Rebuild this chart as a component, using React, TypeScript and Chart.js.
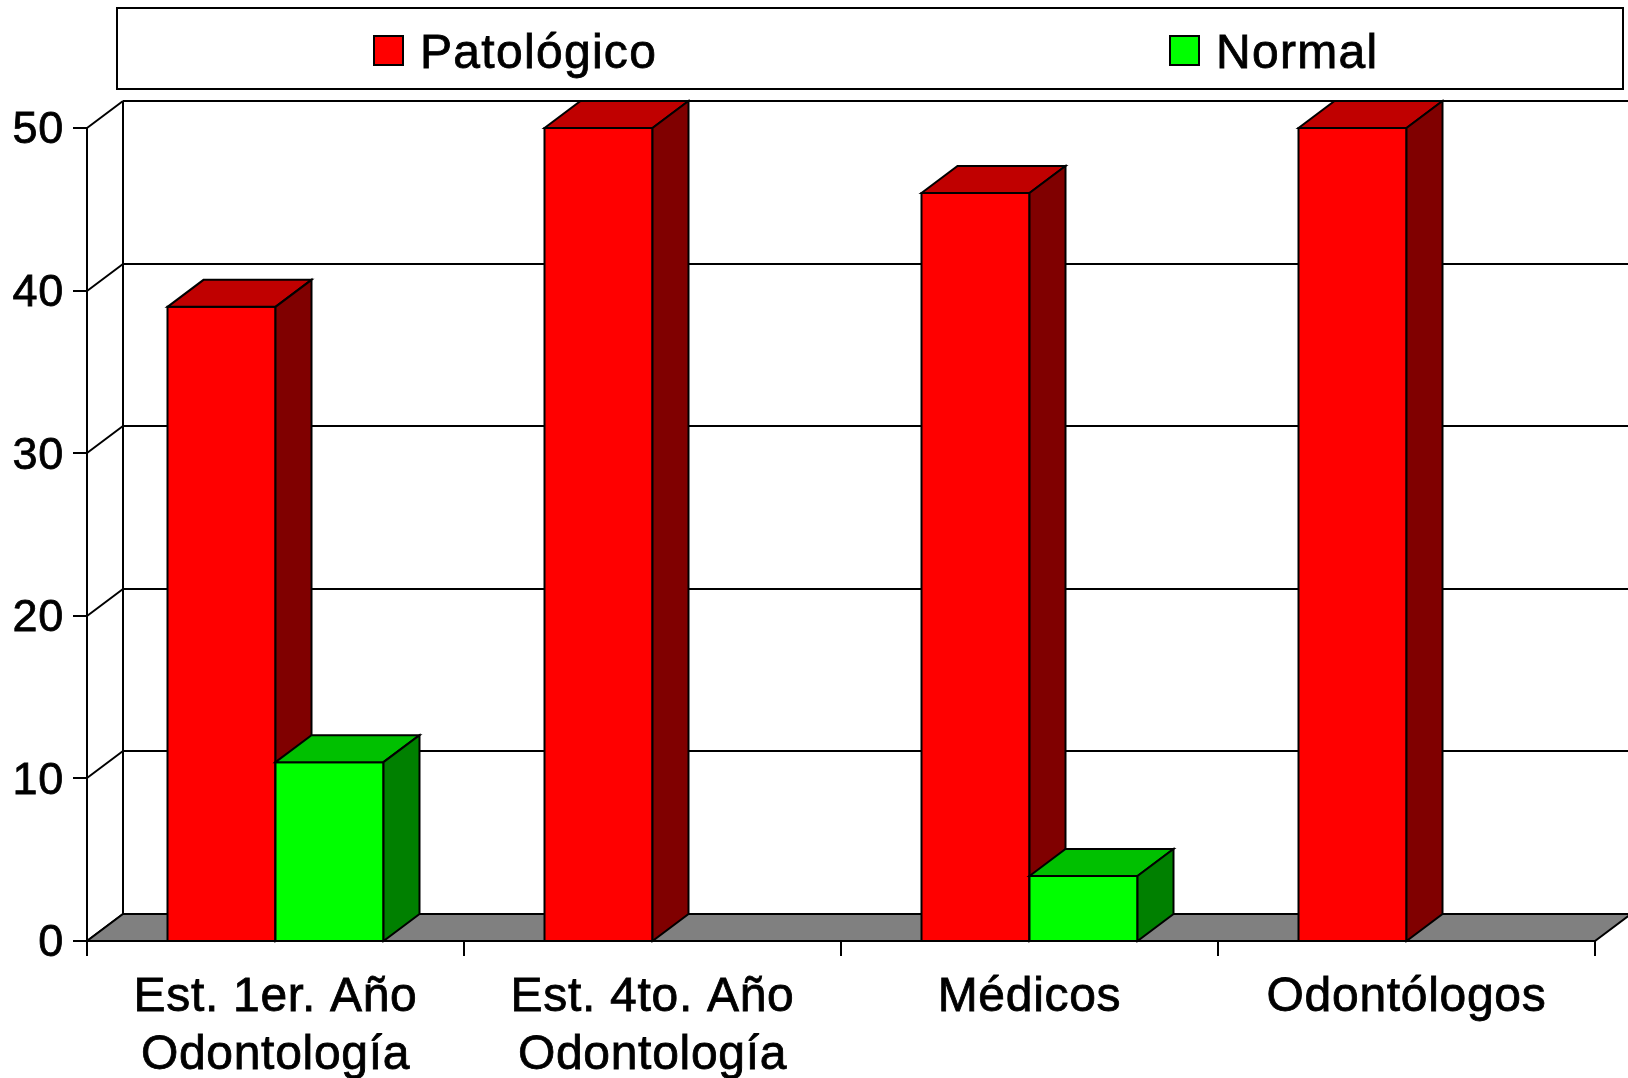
import React, { useEffect, useRef } from 'react';
import { Chart, registerables } from 'chart.js';

Chart.register(...registerables);

// ---- data ----
const categories: (string | string[])[] = [
  ['Est. 1er. Año', 'Odontología'],
  ['Est. 4to. Año', 'Odontología'],
  'Médicos',
  'Odontólogos',
];
const seriesNames = ['Patológico', 'Normal'];
const patologico = [39, 50, 46, 50];
const normal = [11, 0, 4, 0];
const yTickValues = [0, 10, 20, 30, 40, 50];

// ---- styles ----
const FONT = '"Liberation Sans", Arial, Helvetica, sans-serif';
const seriesStyles = [
  { front: '#FF0000', top: '#C00000', side: '#800000' },
  { front: '#00FF00', top: '#00C000', side: '#008000' },
];
const DX = 36;
const DY = 27;
const LINE = 2;

const threeD = {
  id: 'threeD',
  beforeDraw(chart: any) {
    const ctx = chart.ctx;
    try {
      ctx.letterSpacing = '0.7px';
    } catch (e) {}
  },
  beforeDatasetsDraw(chart: any) {
    const { ctx, chartArea: a, scales } = chart;
    const x = scales.x;
    const y = scales.y;
    const y0 = y.getPixelForValue(0);
    const yTop = y.getPixelForValue(yTickValues[yTickValues.length - 1]);
    const W = chart.width;
    ctx.save();
    ctx.lineWidth = LINE;
    ctx.strokeStyle = '#000';
    ctx.lineCap = 'butt';

    // back wall gridlines + left wall diagonals + tick marks
    yTickValues.forEach((v) => {
      const py = Math.round(y.getPixelForValue(v));
      ctx.beginPath();
      ctx.moveTo(a.left + DX, py - DY);
      ctx.lineTo(W + 10, py - DY);
      ctx.moveTo(a.left, py);
      ctx.lineTo(a.left + DX, py - DY);
      ctx.moveTo(a.left - 14, py);
      ctx.lineTo(a.left, py);
      ctx.stroke();
    });
    // back wall left vertical
    ctx.beginPath();
    ctx.moveTo(a.left + DX, yTop - DY);
    ctx.lineTo(a.left + DX, y0 - DY);
    ctx.stroke();

    // floor
    ctx.beginPath();
    ctx.moveTo(a.left, y0);
    ctx.lineTo(a.right, y0);
    ctx.lineTo(a.right + DX, y0 - DY);
    ctx.lineTo(a.left + DX, y0 - DY);
    ctx.closePath();
    ctx.fillStyle = '#808080';
    ctx.fill();
    ctx.stroke();

    // front vertical axis
    ctx.beginPath();
    ctx.moveTo(a.left, yTop);
    ctx.lineTo(a.left, y0 + 15);
    ctx.stroke();

    // category boundary ticks
    ctx.beginPath();
    for (let i = 0; i <= categories.length; i++) {
      const px = Math.round(x.getPixelForValue(i - 0.5));
      ctx.moveTo(px, y0);
      ctx.lineTo(px, y0 + 15);
    }
    ctx.stroke();
    ctx.restore();
  },
  afterDatasetsDraw(chart: any) {
    const { ctx } = chart;
    ctx.save();
    ctx.lineWidth = LINE;
    ctx.strokeStyle = '#000';
    ctx.lineJoin = 'miter';
    const n = categories.length;
    for (let i = 0; i < n; i++) {
      chart.data.datasets.forEach((ds: any, di: number) => {
        const val = ds.data[i];
        if (!val) return;
        const el = chart.getDatasetMeta(di).data[i];
        const st = seriesStyles[di];
        const x1 = el.x - el.width / 2;
        const x2 = el.x + el.width / 2;
        const t = el.y;
        const b = el.base;
        // front
        ctx.beginPath();
        ctx.rect(x1, t, x2 - x1, b - t);
        ctx.fillStyle = st.front;
        ctx.fill();
        ctx.stroke();
        // top
        ctx.beginPath();
        ctx.moveTo(x1, t);
        ctx.lineTo(x1 + DX, t - DY);
        ctx.lineTo(x2 + DX, t - DY);
        ctx.lineTo(x2, t);
        ctx.closePath();
        ctx.fillStyle = st.top;
        ctx.fill();
        ctx.stroke();
        // side
        ctx.beginPath();
        ctx.moveTo(x2, t);
        ctx.lineTo(x2 + DX, t - DY);
        ctx.lineTo(x2 + DX, b - DY);
        ctx.lineTo(x2, b);
        ctx.closePath();
        ctx.fillStyle = st.side;
        ctx.fill();
        ctx.stroke();
      });
    }
    ctx.restore();
  },
  afterDraw(chart: any) {
    const { ctx } = chart;
    ctx.save();
    // legend box
    ctx.lineWidth = LINE;
    ctx.strokeStyle = '#000';
    ctx.fillStyle = '#fff';
    ctx.beginPath();
    ctx.rect(117, 8, 1506, 81);
    ctx.fill();
    ctx.stroke();
    const items = [
      { sx: 374, tx: 420 },
      { sx: 1170, tx: 1216 },
    ];
    chart.data.datasets.forEach((ds: any, di: number) => {
      const it = items[di];
      ctx.lineWidth = LINE;
      ctx.beginPath();
      ctx.rect(it.sx, 36, 29, 29);
      ctx.fillStyle = seriesStyles[di].front;
      ctx.fill();
      ctx.stroke();
      ctx.fillStyle = '#000';
      ctx.font = `48px ${FONT}`;
      try {
        ctx.letterSpacing = '1.3px';
      } catch (e) {}
      ctx.textBaseline = 'alphabetic';
      ctx.textAlign = 'left';
      ctx.lineWidth = 0.8;
      ctx.fillText(ds.label, it.tx, 68);
      ctx.strokeText(ds.label, it.tx, 68);
    });
    ctx.restore();
    try {
      ctx.letterSpacing = '0px';
    } catch (e) {}
  },
};

export default function App() {
  const ref = useRef<HTMLCanvasElement>(null);
  useEffect(() => {
    const chart = new Chart(ref.current as HTMLCanvasElement, {
      type: 'bar',
      data: {
        labels: categories,
        datasets: [
          { label: seriesNames[0], data: patologico, backgroundColor: seriesStyles[0].front, borderWidth: 0 },
          { label: seriesNames[1], data: normal, backgroundColor: seriesStyles[1].front, borderWidth: 0 },
        ],
      },
      options: {
        responsive: false,
        animation: false,
        devicePixelRatio: 1,
        layout: { padding: { top: 128, right: 33, left: 0, bottom: 0 } },
        datasets: { bar: { categoryPercentage: 216 / 377, barPercentage: 1 } },
        plugins: { legend: { display: false }, tooltip: { enabled: false } },
        scales: {
          x: {
            type: 'category',
            offset: true,
            grid: { display: false },
            border: { display: false },
            ticks: {
              color: '#000',
              font: { family: FONT, size: 48, lineHeight: 1.2 },
              textStrokeColor: '#000',
              textStrokeWidth: 0.8,
              padding: 20,
              maxRotation: 0,
              autoSkip: false,
            },
            afterFit: (s: any) => {
              s.height = 137;
            },
          },
          y: {
            min: 0,
            max: 50,
            grid: { display: false },
            border: { display: false },
            ticks: {
              stepSize: 10,
              color: '#000',
              font: { family: FONT, size: 45 },
              textStrokeColor: '#000',
              textStrokeWidth: 0.8,
              padding: 15,
              labelOffset: 3,
            },
            afterFit: (s: any) => {
              s.width = 87;
            },
          },
        },
      } as any,
      plugins: [threeD],
    });
    return () => chart.destroy();
  }, []);
  return (
    <div style={{ position: 'absolute', left: 0, top: 0, width: 1628, height: 1078, background: '#fff' }}>
      <canvas ref={ref} width={1628} height={1078} style={{ display: 'block', width: 1628, height: 1078 }} />
    </div>
  );
}
